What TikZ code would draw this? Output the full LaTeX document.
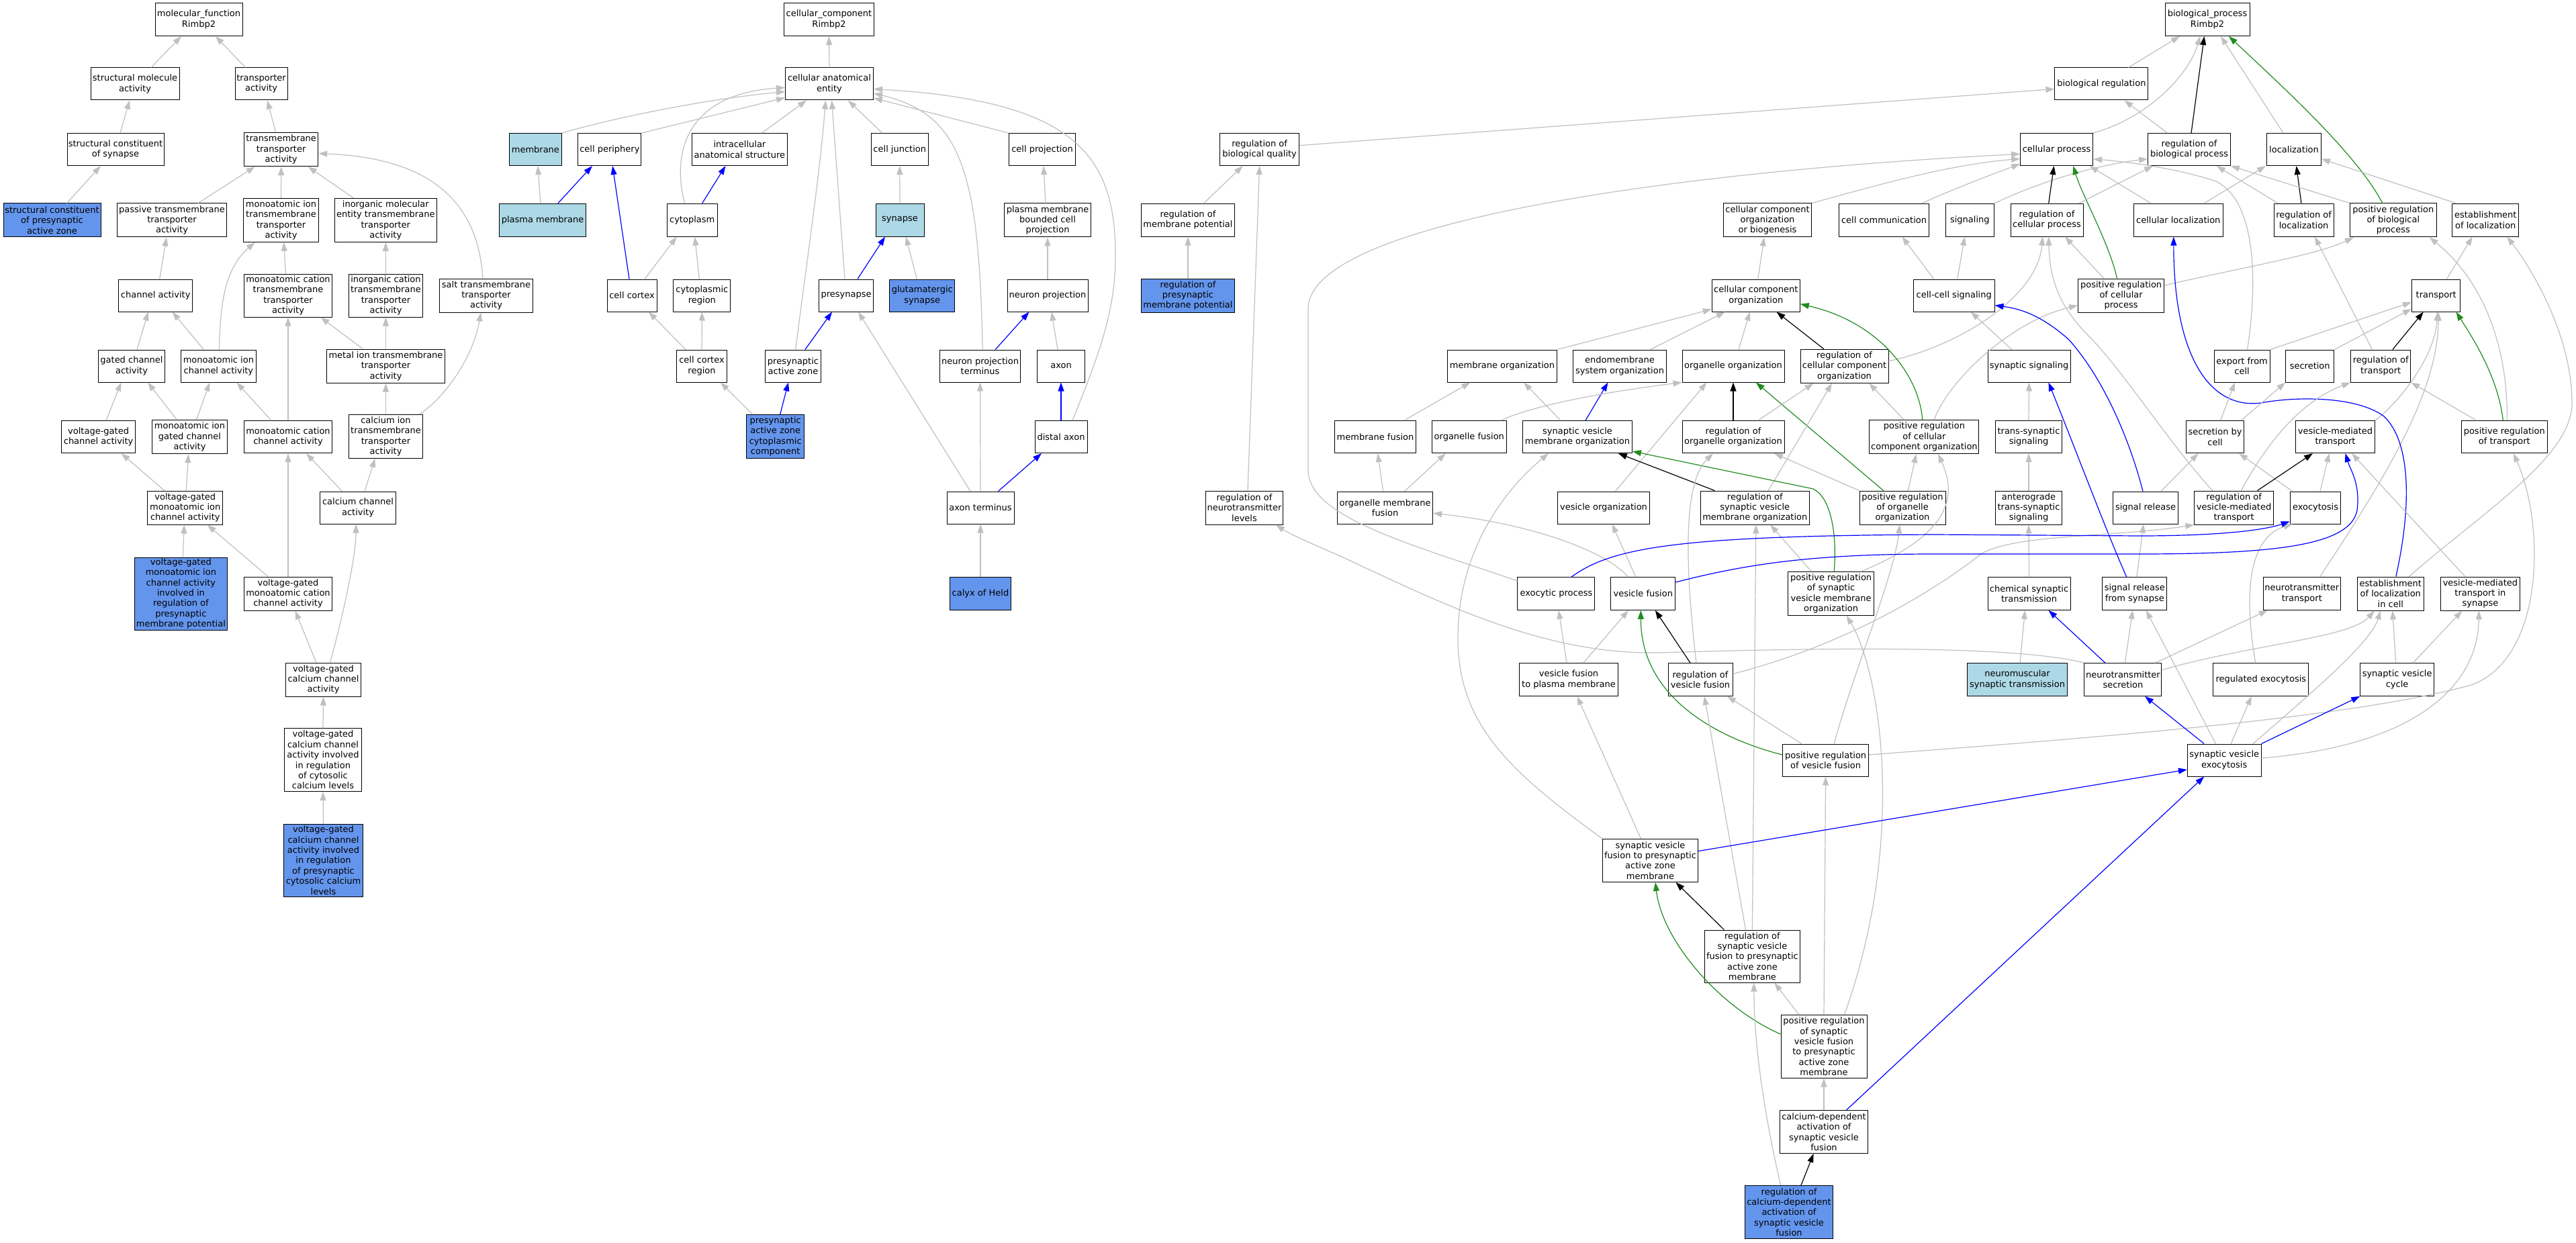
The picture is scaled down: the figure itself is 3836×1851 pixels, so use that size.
\documentclass[tikz,border=0pt]{standalone}
\usepackage{fontspec}
\setmainfont{DejaVu Sans}
\usetikzlibrary{arrows.meta}
\definecolor{cblue}{HTML}{6495ED}
\definecolor{lblue}{HTML}{ADD8E6}
\definecolor{egray}{HTML}{C0C0C0}
\definecolor{egreen}{HTML}{228B22}
\newcommand{\gofont}{\fontsize{13pt}{15.4pt}\selectfont}
\newcommand{\GN}[7][box]{\node[#1,minimum width=#5pt,minimum height=#6pt] (#2) at (#3,#4) {#7};}
\newcommand{\Eup}[5][ge]{\draw[#1] ([xshift=#3pt]#2.north) -- ([xshift=#5pt]#4.south);}
\tikzset{
  box/.style={draw=black, line width=1pt, fill=white, inner sep=0pt, align=center, font=\gofont},
  bbox/.style={box, fill=cblue},
  lbox/.style={box, fill=lblue},
  ge/.style={draw=egray, line width=1.2pt, -{Triangle[length=13pt,width=9pt]}},
  ke/.style={draw=black, line width=1.2pt, -{Triangle[length=13pt,width=9pt]}},
  be/.style={draw=blue, line width=1.2pt, -{Triangle[length=13pt,width=9pt]}},
  fe/.style={draw=egreen, line width=1.2pt, -{Triangle[length=13pt,width=9pt]}}
}
\begin{document}
\begin{tikzpicture}[x=1pt,y=-1pt]
\useasboundingbox[fill=white] (0,0) rectangle (3836,1851);
% ---------------- molecular function ----------------
\GN{mf}{296}{29}{130}{49}{molecular\_function\\Rimbp2}
\GN{sma}{201}{125}{132}{48}{structural molecule\\activity}
\GN{ta}{389}{125}{78}{48}{transporter\\activity}
\GN{scs}{172}{222.6}{144}{48}{structural constituent\\of synapse}
\GN{tmta}{418.7}{222.6}{110}{50}{transmembrane\\transporter\\activity}
\GN[bbox]{scpaz}{77.5}{328}{145}{50}{structural constituent\\of presynaptic\\active zone}
\GN{ptta}{256}{328}{163}{50}{passive transmembrane\\transporter\\activity}
\GN{mitta}{418.5}{327.8}{112}{65}{monoatomic ion\\transmembrane\\transporter\\activity}
\GN{imetta}{574.3}{327.8}{152}{65}{inorganic molecular\\entity transmembrane\\transporter\\activity}
\GN{cha}{231.7}{440}{110}{48}{channel activity}
\GN{mctta}{429}{440}{131}{64}{monoatomic cation\\transmembrane\\transporter\\activity}
\GN{ictta}{574.5}{440}{109.5}{64}{inorganic cation\\transmembrane\\transporter\\activity}
\GN{stta}{724}{440}{139}{50}{salt transmembrane\\transporter\\activity}
\GN{gca}{196}{545}{98.5}{48}{gated channel\\activity}
\GN{mica}{325.4}{545}{112}{48}{monoatomic ion\\channel activity}
\GN{metal}{574.5}{545.2}{176}{50}{metal ion transmembrane\\transporter\\activity}
\GN{caitta}{574.5}{650}{109.5}{65}{calcium ion\\transmembrane\\transporter\\activity}
\GN{vgca}{146.6}{650.6}{109.6}{48}{voltage-gated\\channel activity}
\GN{migca}{282.5}{650.7}{112}{50}{monoatomic ion\\gated channel\\activity}
\GN{mcca}{429}{650.6}{131}{48}{monoatomic cation\\channel activity}
\GN{vgmica}{275.8}{756}{112}{50}{voltage-gated\\monoatomic ion\\channel activity}
\GN{ccha}{533}{756}{112.5}{48}{calcium channel\\activity}
\GN[bbox]{vgmicapm}{269.4}{884}{138}{108}{voltage-gated\\monoatomic ion\\channel activity\\involved in\\regulation of\\presynaptic\\membrane potential}
\GN{vgmcca}{429}{884}{131}{50}{voltage-gated\\monoatomic cation\\channel activity}
\GN{vgcca}{481.5}{1012}{112}{50}{voltage-gated\\calcium channel\\activity}
\GN{vgccacl}{481}{1131.6}{115}{94}{voltage-gated\\calcium channel\\activity involved\\in regulation\\of cytosolic\\calcium levels}
\GN[bbox]{vgccapcl}{481.5}{1281}{118}{108}{voltage-gated\\calcium channel\\activity involved\\in regulation\\of presynaptic\\cytosolic calcium\\levels}
% ---------------- cellular component ----------------
\GN{cc}{1234.5}{29}{134}{49}{cellular\_component\\Rimbp2}
\GN{cae}{1235}{125}{131}{48}{cellular anatomical\\entity}
\GN[lbox]{membrane}{797.4}{222.6}{78}{48}{membrane}
\GN{cper}{907.9}{222.6}{94}{48}{cell periphery}
\GN{ias}{1101.4}{222.6}{142}{48}{intracellular\\anatomical structure}
\GN{cj}{1339.8}{222.6}{85}{48}{cell junction}
\GN{cproj}{1552}{222.6}{99}{48}{cell projection}
\GN[lbox]{pm}{808}{327.6}{128.6}{49}{plasma membrane}
\GN{cyto}{1030.7}{327.6}{75}{49}{cytoplasm}
\GN[lbox]{syn}{1340}{327.6}{72}{49}{synapse}
\GN{pmbcp}{1560}{328}{128.5}{50}{plasma membrane\\bounded cell\\projection}
\GN{ccortex}{941}{440}{74}{48}{cell cortex}
\GN{cytreg}{1045.4}{440}{85}{48}{cytoplasmic\\region}
\GN{presyn}{1260}{440}{81}{48}{presynapse}
\GN[bbox]{glut}{1373.3}{440}{97}{48}{glutamatergic\\synapse}
\GN{np}{1560}{440}{120}{48}{neuron projection}
\GN{ccr}{1045}{545}{74.6}{48}{cell cortex\\region}
\GN{paz}{1181}{545}{83}{48}{presynaptic\\active zone}
\GN{npt}{1459.6}{545}{120}{48}{neuron projection\\terminus}
\GN{axon}{1580}{545}{71.6}{48}{axon}
\GN[bbox]{pazcc}{1154.7}{650}{85.7}{65}{presynaptic\\active zone\\cytoplasmic\\component}
\GN{dax}{1580}{650.6}{78}{48}{distal axon}
\GN{axt}{1460}{756}{100}{48}{axon terminus}
\GN[bbox]{calyx}{1460}{884}{91}{48.6}{calyx of Held}
% ---------------- biological process ----------------
\GN{bp}{3287}{29}{126}{49}{biological\_process\\Rimbp2}
\GN{breg}{3129.4}{125}{139}{48}{biological regulation}
\GN{rbq}{1875.6}{222.6}{118}{48}{regulation of\\biological quality}
\GN{cp}{3062.6}{222.6}{108}{48}{cellular process}
\GN{rbp}{3260}{222.6}{122.5}{48}{regulation of\\biological process}
\GN{loc}{3416}{222.6}{80.5}{48}{localization}
\GN{rmp}{1769}{327.6}{139}{49}{regulation of\\membrane potential}
\GN{ccob}{2632}{328}{131}{50}{cellular component\\organization\\or biogenesis}
\GN{ccomm}{2805.5}{327.6}{134}{49}{cell communication}
\GN{sig}{2933.3}{327.6}{72.6}{49}{signaling}
\GN{rcp}{3048}{327.6}{108}{49}{regulation of\\cellular process}
\GN{cloc}{3243.8}{327.6}{133.5}{49}{cellular localization}
\GN{rloc}{3430.6}{327.6}{89}{49}{regulation of\\localization}
\GN{prbp}{3563.8}{328}{128.6}{50}{positive regulation\\of biological\\process}
\GN{eloc}{3701.3}{327.6}{98.8}{49}{establishment\\of localization}
\GN[bbox]{rpmp}{1769}{440}{139}{50}{regulation of\\presynaptic\\membrane potential}
\GN{cco}{2614.8}{440}{131}{48}{cellular component\\organization}
\GN{ccs}{2909.7}{440}{120.7}{48}{cell-cell signaling}
\GN{prcp}{3158.6}{440}{128}{50}{positive regulation\\of cellular\\process}
\GN{transport}{3627.7}{440}{72.5}{48}{transport}
\GN{memorg}{2237}{545}{163}{48}{membrane organization}
\GN{eso}{2412}{545}{139}{48}{endomembrane\\system organization}
\GN{oo}{2581}{545}{152}{48}{organelle organization}
\GN{rcco}{2746.5}{545.2}{131}{50}{regulation of\\cellular component\\organization}
\GN{ssig}{3021.5}{545}{123}{48}{synaptic signaling}
\GN{efc}{3338.6}{545}{83}{48}{export from\\cell}
\GN{secr}{3439.7}{545}{72}{48}{secretion}
\GN{rtr}{3545.2}{545}{89}{48}{regulation of\\transport}
\GN{mfus}{2048}{650.6}{121}{48}{membrane fusion}
\GN{ofus}{2187.8}{650.6}{111}{48}{organelle fusion}
\GN{svmo}{2349}{650.6}{163}{48}{synaptic vesicle\\membrane organization}
\GN{roo}{2581}{650.6}{152}{48}{regulation of\\organelle organization}
\GN{prcco}{2865.4}{650.7}{163}{50}{positive regulation\\of cellular\\component organization}
\GN{trsig}{3021}{650.6}{99.4}{48}{trans-synaptic\\signaling}
\GN{sbc}{3298.6}{650.6}{86}{48}{secretion by\\cell}
\GN{vmt}{3477.5}{650.6}{118}{48}{vesicle-mediated\\transport}
\GN{prt}{3729.3}{650.6}{128}{48}{positive regulation\\of transport}
\GN{rntl}{1853}{756}{115}{50}{regulation of\\neurotransmitter\\levels}
\GN{omf}{2062.6}{756}{142}{48}{organelle membrane\\fusion}
\GN{vorg}{2388}{756}{136.5}{48}{vesicle organization}
\GN{rsvmo}{2613.3}{756}{162}{50}{regulation of\\synaptic vesicle\\membrane organization}
\GN{proo}{2833}{756}{128}{50}{positive regulation\\of organelle\\organization}
\GN{atsig}{3021}{756}{99.4}{50}{anterograde\\trans-synaptic\\signaling}
\GN{srel}{3195}{756}{97}{48}{signal release}
\GN{rvmt}{3326.6}{756}{117.7}{50}{regulation of\\vesicle-mediated\\transport}
\GN{exo}{3448}{756}{75.6}{48}{exocytosis}
\GN{exop}{2317.4}{884}{115}{48.6}{exocytic process}
\GN{vfus}{2446.8}{884}{96}{48.6}{vesicle fusion}
\GN{prsvmo}{2726.6}{884}{128}{64.5}{positive regulation\\of synaptic\\vesicle membrane\\organization}
\GN{cst}{3021.5}{884}{123}{48.6}{chemical synaptic\\transmission}
\GN{srfs}{3178.8}{884}{96.3}{48.6}{signal release\\from synapse}
\GN{ntt}{3427.8}{884}{115}{48.6}{neurotransmitter\\transport}
\GN{elic}{3559.8}{884}{98.8}{50}{establishment\\of localization\\in cell}
\GN{vmts}{3693.4}{884}{118.3}{50}{vesicle-mediated\\transport in\\synapse}
\GN{vfpm}{2336}{1012}{146.4}{48.7}{vesicle fusion\\to plasma membrane}
\GN{rvf}{2532}{1012}{96}{48.7}{regulation of\\vesicle fusion}
\GN[lbox]{nmst}{3004}{1012}{149.4}{48.7}{neuromuscular\\synaptic transmission}
\GN{nts}{3161.4}{1012}{115}{48.7}{neurotransmitter\\secretion}
\GN{rexo}{3366.8}{1012}{142}{48.7}{regulated exocytosis}
\GN{svc}{3569.6}{1012}{109.7}{48.7}{synaptic vesicle\\cycle}
\GN{prvf}{2718.6}{1132}{128}{48}{positive regulation\\of vesicle fusion}
\GN{sve}{3312.2}{1132}{109.7}{48}{synaptic vesicle\\exocytosis}
\GN{svfpaz}{2457.5}{1281.4}{142}{64}{synaptic vesicle\\fusion to presynaptic\\active zone\\membrane}
\GN{rsvfpaz}{2609.4}{1424}{142}{78}{regulation of\\synaptic vesicle\\fusion to presynaptic\\active zone\\membrane}
\GN{prsvfpaz}{2716}{1558.4}{128}{93.6}{positive regulation\\of synaptic\\vesicle fusion\\to presynaptic\\active zone\\membrane}
\GN{cdasvf}{2716}{1685.5}{131}{64}{calcium-dependent\\activation of\\synaptic vesicle\\fusion}
\GN[bbox]{rcdasvf}{2664}{1805}{131}{79}{regulation of\\calcium-dependent\\activation of\\synaptic vesicle\\fusion}
% ================= edges: molecular function =================
\Eup{sma}{24}{mf}{-26}
\Eup{ta}{-23.5}{mf}{25}
\Eup{scs}{7}{sma}{-8}
\Eup{scpaz}{22}{scs}{-22}
\Eup{tmta}{-8}{ta}{9}
\Eup{ptta}{39}{tmta}{-39}
\Eup{mitta}{0}{tmta}{0}
\Eup{imetta}{-48}{tmta}{40}
\draw[ge] ([xshift=-5pt]stta.north) .. controls (712,300) and (640,235) .. ([yshift=-6pt]tmta.east);
\Eup{cha}{6}{ptta}{-8}
\Eup{mctta}{-3.5}{mitta}{4}
\Eup{ictta}{0}{imetta}{0}
\draw[ge] ([xshift=1pt]mica.north) .. controls (328,450) and (335,400) .. ([xshift=-39pt]mitta.south);
\Eup{gca}{8}{cha}{-11}
\Eup{mica}{-22}{cha}{25}
\Eup{metal}{-34}{mctta}{48.5}
\Eup{metal}{0}{ictta}{0}
\Eup{caitta}{0}{metal}{0}
\draw[ge] ([xshift=50pt]caitta.north) .. controls (665,590) and (705,530) .. ([xshift=-8pt]stta.south);
\Eup{vgca}{11.5}{gca}{-15.5}
\Eup{migca}{-19}{gca}{24}
\Eup{migca}{10}{mica}{-13}
\Eup{mcca}{-25}{mica}{27}
\Eup{mcca}{0}{mctta}{0}
\Eup{vgmica}{-31}{vgca}{34}
\Eup{vgmica}{1.5}{migca}{-2}
\Eup{vgmicapm}{3}{vgmica}{-1.5}
\Eup{vgmcca}{-30}{vgmica}{33}
\Eup{vgmcca}{0}{mcca}{0}
\Eup{ccha}{-23.6}{mcca}{27}
\Eup{ccha}{10}{caitta}{-16}
\Eup{vgcca}{-10.7}{vgmcca}{10.6}
\draw[ge] ([xshift=10pt]vgcca.north) .. controls (510,920) and (530,830) .. ([xshift=-3pt]ccha.south);
\Eup{vgccacl}{0}{vgcca}{0}
\Eup{vgccapcl}{0}{vgccacl}{0}
% ================= edges: cellular component =================
\Eup{cae}{0}{cc}{0}
\draw[ge] (membrane.north east) .. controls (890,182) and (1030,150) .. ([yshift=-11.4pt]cae.west);
\draw[ge] (cper.north east) -- ([yshift=-20.5pt]cae.west);
\draw[ge] ([xshift=-11pt]cyto.north) .. controls (1000,230) and (1020,140) .. ([yshift=-5.5pt]cae.west);
\Eup{pm}{-3}{membrane}{3.4}
\Eup[be]{pm}{23}{cper}{-26}
\Eup[be]{ccortex}{-4}{cper}{4.3}
\Eup[be]{cyto}{15}{ias}{-21}
\Eup{ccortex}{19}{cyto}{-23}
\Eup{cytreg}{-4}{cyto}{4}
\Eup{ccr}{-24}{ccortex}{25}
\Eup{ccr}{0}{cytreg}{0}
\Eup{syn}{0}{cj}{0}
\Eup[be]{presyn}{17}{syn}{-22}
\Eup{glut}{-8}{syn}{9}
\Eup[be]{paz}{18}{presyn}{-21}
\Eup{pazcc}{-34}{ccr}{28}
\Eup[be]{pazcc}{7}{paz}{-7}
\Eup{axt}{-15}{presyn}{18}
\Eup{axt}{0}{npt}{0}
\Eup[be]{axt}{26.5}{dax}{-29}
\Eup{calyx}{0}{axt}{0}
\Eup{pmbcp}{-3}{cproj}{2}
\Eup{np}{0}{pmbcp}{0}
\Eup[be]{npt}{22.6}{np}{-27.6}
\Eup{axon}{-5}{np}{6}
\Eup[be]{dax}{0}{axon}{0}
\Eup{ias}{33}{cae}{-34}
\Eup{cj}{-26}{cae}{28}
\draw[ge] (cproj.north west) -- ([yshift=-21pt]cae.east);
\Eup{presyn}{-2}{cae}{3.6}
\draw[ge] ([xshift=3.7pt]paz.north) .. controls (1200,400) and (1222,250) .. ([xshift=-5.6pt]cae.south);
\draw[ge] ([xshift=3.6pt]npt.north) .. controls (1458,250) and (1430,170) .. ([yshift=-14pt]cae.east);
\draw[ge] ([xshift=17pt]dax.north) .. controls (1640,520) and (1661,460) .. (1661,380) .. controls (1661,230) and (1600,150) .. ([yshift=-7.5pt]cae.east);
% ================= edges: biological process =================
\Eup{breg}{40}{bp}{-41}
\draw[ge] (cp.north east) .. controls (3200,175) and (3260,110) .. ([xshift=-10.7pt]bp.south);
\Eup[ke]{rbp}{3}{bp}{-4.6}
\Eup{loc}{-16}{bp}{20}
\draw[fe] ([xshift=-16pt]prbp.north) .. controls (3510,230) and (3400,130) .. ([xshift=32pt]bp.south);
\draw[ge] ([yshift=6pt]rbq.east) -- ([yshift=-7.5pt]breg.west);
\Eup{rbp}{-32.5}{breg}{34}
\draw[ge] ([yshift=19pt]exop.west) .. controls (2100,810) and (1948,770) .. (1948,700) -- (1948,460) .. controls (1948,330) and (2500,255) .. ([yshift=-6.7pt]cp.west);
\draw[ge] (ccob.north east) .. controls (2780,280) and (2900,245) .. ([yshift=-13.9pt]cp.west);
\draw[ge] ([xshift=57pt]ccomm.north) .. controls (2900,285) and (2960,262) .. ([yshift=3pt]cp.south west);
\draw[ge] (sig.north east) .. controls (3050,265) and (3130,245) .. ([yshift=-14pt]rbp.west);
\Eup[ke]{rcp}{2.7}{cp}{-4}
\draw[fe] ([xshift=-6pt]prcp.north) .. controls (3140,360) and (3100,290) .. ([xshift=24.7pt]cp.south);
\Eup{cloc}{-41}{cp}{49}
\Eup{cloc}{38.6}{loc}{-42}
\draw[ge] ([xshift=8pt]efc.north) .. controls (3362,420) and (3360,300) .. (3300,270) .. controls (3240,250) and (3160,240) .. ([yshift=-14.4pt]cp.east);
\Eup{rcp}{48}{rbp}{-54}
\Eup{rloc}{-38.6}{rbp}{40.7}
\Eup[ke]{rloc}{-3.7}{loc}{3.6}
\draw[ge] (prbp.north west) -- (rbp.south east);
\draw[ge] ([xshift=-44pt]eloc.north) -- ([yshift=-14pt]loc.east);
\Eup{ccs}{5}{sig}{-7.6}
\Eup{ccs}{-30}{ccomm}{27}
\draw[ge] ([yshift=7.5pt]rcco.east) .. controls (2920,515) and (3035,440) .. ([xshift=-6.4pt]rcp.south);
\draw[ge] ([xshift=-32pt]rvmt.north) .. controls (3230,660) and (3160,550) .. (3110,500) .. controls (3070,460) and (3052,420) .. ([xshift=2.7pt]rcp.south);
\Eup{prcp}{-25.6}{rcp}{27}
\draw[ge] ([yshift=15pt]prcp.east) .. controls (3330,400) and (3450,380) .. ([xshift=-59pt]prbp.south);
\draw[ge] ([xshift=14.6pt]prcco.north) .. controls (2900,570) and (2990,480) .. ([yshift=-14.7pt]prcp.west);
\Eup{ssig}{-25.7}{ccs}{25}
\draw[be] ([xshift=-4pt]srel.north) .. controls (3170,650) and (3130,560) .. (3080,505) .. controls (3040,470) and (3010,460) .. ([yshift=-14.7pt]ccs.east);
\draw[be] ([xshift=-12pt]srfs.north) .. controls (3140,800) and (3095,680) .. ([xshift=29pt]ssig.south);
\Eup{trsig}{0}{ssig}{0}
\draw[ge] (efc.north east) -- ([yshift=-10pt]transport.west);
\draw[ge] (secr.north east) -- ([yshift=-20pt]transport.west);
\Eup[ke]{rtr}{17.7}{transport}{-19}
\Eup{rtr}{-12.8}{rloc}{16.4}
\Eup{transport}{15.7}{eloc}{-19.5}
\draw[ge] (vmt.north east) .. controls (3560,610) and (3625,540) .. ([xshift=2pt]transport.south);
\draw[ge] ([xshift=26.5pt]ntt.north) .. controls (3560,700) and (3630,580) .. ([xshift=3.5pt]transport.south);
\draw[fe] ([xshift=-2pt]prt.north) .. controls (3720,560) and (3680,500) .. ([xshift=29.7pt]transport.south);
\draw[ge] ([xshift=4pt]prt.north) .. controls (3735,520) and (3700,420) .. ([xshift=54pt]prbp.south);
\draw[ge] ([xshift=-41.5pt]prt.north) -- (rtr.south east);
\draw[ge] ([xshift=27.5pt]elic.north) .. controls (3700,760) and (3830,680) .. (3830,600) .. controls (3830,500) and (3770,400) .. ([xshift=32pt]eloc.south);
\draw[be] ([xshift=8pt]elic.north) .. controls (3590,760) and (3592,660) .. (3550,620) .. controls (3510,590) and (3420,590) .. (3367,600) .. controls (3290,610) and (3237,530) .. ([xshift=-7pt]cloc.south);
\draw[ge] (nts.north west) .. controls (3000,960) and (2700,965) .. (2470,972) .. controls (2300,975) and (2150,900) .. (2000,830) .. controls (1950,808) and (1920,795) .. ([xshift=-11pt]rntl.south east);
\Eup{rntl}{5}{rbq}{0}
\Eup{rmp}{23.6}{rbq}{-25}
\Eup{rpmp}{0}{rmp}{0}
\Eup{cco}{3}{ccob}{-5}
\draw[ge] (memorg.north east) -- ([yshift=4pt]cco.south west);
\Eup{eso}{45.5}{cco}{-46}
\Eup{oo}{8}{cco}{-9}
\Eup[ke]{rcco}{-30.6}{cco}{30.7}
\draw[fe] ([xshift=-2.6pt]prcco.north) .. controls (2858,560) and (2800,480) .. ([yshift=-12.7pt]cco.east);
\Eup{mfus}{43}{memorg}{-47.6}
\Eup{svmo}{-25}{memorg}{32}
\Eup[be]{svmo}{12}{eso}{-17.5}
\draw[ge] ([xshift=47.5pt]ofus.north) .. controls (2290,600) and (2420,580) .. (oo.south west);
\Eup{vorg}{17.5}{oo}{-39.6}
\Eup[ke]{roo}{0}{oo}{0}
\Eup[fe]{proo}{-28.4}{oo}{33.8}
\Eup{roo}{37}{rcco}{-46}
\Eup{rsvmo}{20}{rcco}{-18.5}
\Eup{prcco}{-30}{rcco}{36.7}
\Eup{omf}{-3}{mfus}{3.6}
\Eup{omf}{29}{ofus}{-35}
\draw[ge] ([xshift=-22pt]vfus.north) .. controls (2390,820) and (2280,780) .. ([yshift=-8.3pt]omf.east);
\Eup{vfus}{-11}{vorg}{12.6}
\draw[ge] (svfpaz.north west) .. controls (2250,1150) and (2171,1080) .. (2171,950) .. controls (2171,820) and (2240,730) .. ([xshift=-43pt]svmo.south);
\Eup[ke]{rsvmo}{-60}{svmo}{60.8}
\draw[fe] ([xshift=4.6pt]prsvmo.north) .. controls (2736,790) and (2725,740) .. (2700,728) -- ([yshift=3pt]svmo.south east);
\draw[ge] ([xshift=-6pt]rvf.north) .. controls (2510,850) and (2505,720) .. ([xshift=-30pt]roo.south);
\draw[ge] (proo.north west) -- ([xshift=61pt]roo.south);
\Eup{proo}{8.4}{prcco}{-12}
\Eup{rsvfpaz}{0}{rsvmo}{1.5}
\Eup{prsvmo}{-29}{rsvmo}{23}
\draw[ge] ([xshift=12.6pt]prvf.north) .. controls (2760,1000) and (2820,860) .. ([xshift=-4pt]proo.south);
\draw[ge] ([xshift=30.5pt]prsvfpaz.north) .. controls (2840,1250) and (2800,1000) .. ([xshift=23pt]prsvmo.south);
\draw[ge] ([xshift=44pt]prsvmo.north) .. controls (2870,810) and (2925,760) .. ([xshift=20.6pt]prcco.south);
\Eup[ke]{rvf}{-15}{vfus}{18}
\draw[fe] ([yshift=8pt]prvf.west) .. controls (2560,1100) and (2443,1040) .. ([xshift=-3.4pt]vfus.south);
\Eup{vfpm}{21.7}{vfus}{-21.8}
\Eup{vfpm}{-3}{exop}{3.6}
\Eup{svfpaz}{-14}{vfpm}{12.5}
\Eup{rsvfpaz}{-10}{rvf}{6}
\Eup{prvf}{-36}{rvf}{40}
\Eup{prsvfpaz}{0}{prvf}{0}
\draw[ge] ([yshift=8pt]prvf.east) .. controls (3100,1100) and (3500,1070) .. (3680,1020) .. controls (3790,980) and (3790,780) .. ([xshift=13.4pt]prt.south);
\draw[ge] ([yshift=8.5pt]rvf.east) .. controls (2750,960) and (2880,880) .. (2950,825) .. controls (3000,795) and (3150,800) .. (rvmt.south west);
\Eup{atsig}{0}{trsig}{0}
\Eup{cst}{0}{atsig}{0}
\Eup{nmst}{4}{cst}{-6}
\Eup[be]{nts}{-26.5}{cst}{29}
\Eup{nts}{3}{srfs}{-3}
\Eup{nts}{48}{ntt}{-51}
\draw[ge] ([yshift=14.4pt]nts.east) .. controls (3350,960) and (3500,950) .. ([xshift=-24pt]elic.south);
\Eup[be]{sve}{-30}{nts}{32.6}
\Eup{sve}{-12.7}{srfs}{17}
\Eup{sve}{10}{rexo}{-14}
\draw[ge] ([xshift=43pt]sve.north) .. controls (3420,1050) and (3530,960) .. ([xshift=-15pt]elic.south);
\draw[be] (sve.north east) -- (svc.south west);
\draw[ge] ([yshift=3pt]sve.east) .. controls (3600,1110) and (3690,1020) .. ([xshift=-2pt]vmts.south);
\Eup{svc}{-2}{elic}{3}
\Eup{svc}{23.7}{vmts}{-27}
\draw[ge] ([xshift=-8pt]rexo.north) .. controls (3340,880) and (3350,800) .. ([xshift=4pt]exo.south west);
\Eup{srel}{23}{sbc}{-25}
\Eup{srfs}{3}{srel}{-3}
\Eup{exo}{-34.5}{sbc}{35.6}
\Eup{exo}{7}{vmt}{-9}
\Eup[ke]{rvmt}{35}{vmt}{-33.5}
\Eup{vmts}{-22.6}{vmt}{24.5}
\Eup{sbc}{8}{efc}{-10.6}
\draw[ge] ([xshift=38.7pt]sbc.north) -- (secr.south west);
\draw[ge] ([xshift=10.7pt]rvmt.north) .. controls (3370,670) and (3420,600) .. (rtr.south west);
\draw[be] ([yshift=17pt]vfus.east) .. controls (2600,840) and (2700,825) .. (2880,825) -- (3185,825) .. controls (3400,825) and (3500,810) .. (3510,760) .. controls (3515,720) and (3500,700) .. ([xshift=15pt]vmt.south);
\draw[be] ([xshift=22.6pt]exop.north) .. controls (2400,815) and (2500,798) .. (2880,796) -- (3185,798) .. controls (3300,798) and (3370,790) .. ([yshift=4pt]exo.south west);
\draw[be] ([yshift=14pt]svfpaz.east) -- ([yshift=-14pt]sve.west);
\Eup[ke]{rsvfpaz}{-42}{svfpaz}{38}
\draw[fe] ([yshift=18.4pt]prsvfpaz.west) .. controls (2560,1500) and (2475,1400) .. ([xshift=7.5pt]svfpaz.south);
\Eup{prsvfpaz}{-37}{rsvfpaz}{33}
\draw[ge] ([xshift=-12.4pt]rcdasvf.north) .. controls (2625,1650) and (2612,1550) .. ([xshift=2.4pt]rsvfpaz.south);
\Eup[ke]{rcdasvf}{18}{cdasvf}{-15.4}
\Eup{cdasvf}{0}{prsvfpaz}{0}
\draw[be] ([xshift=33.5pt]cdasvf.north) -- ([xshift=-30pt]sve.south);
\end{tikzpicture}
\end{document}
